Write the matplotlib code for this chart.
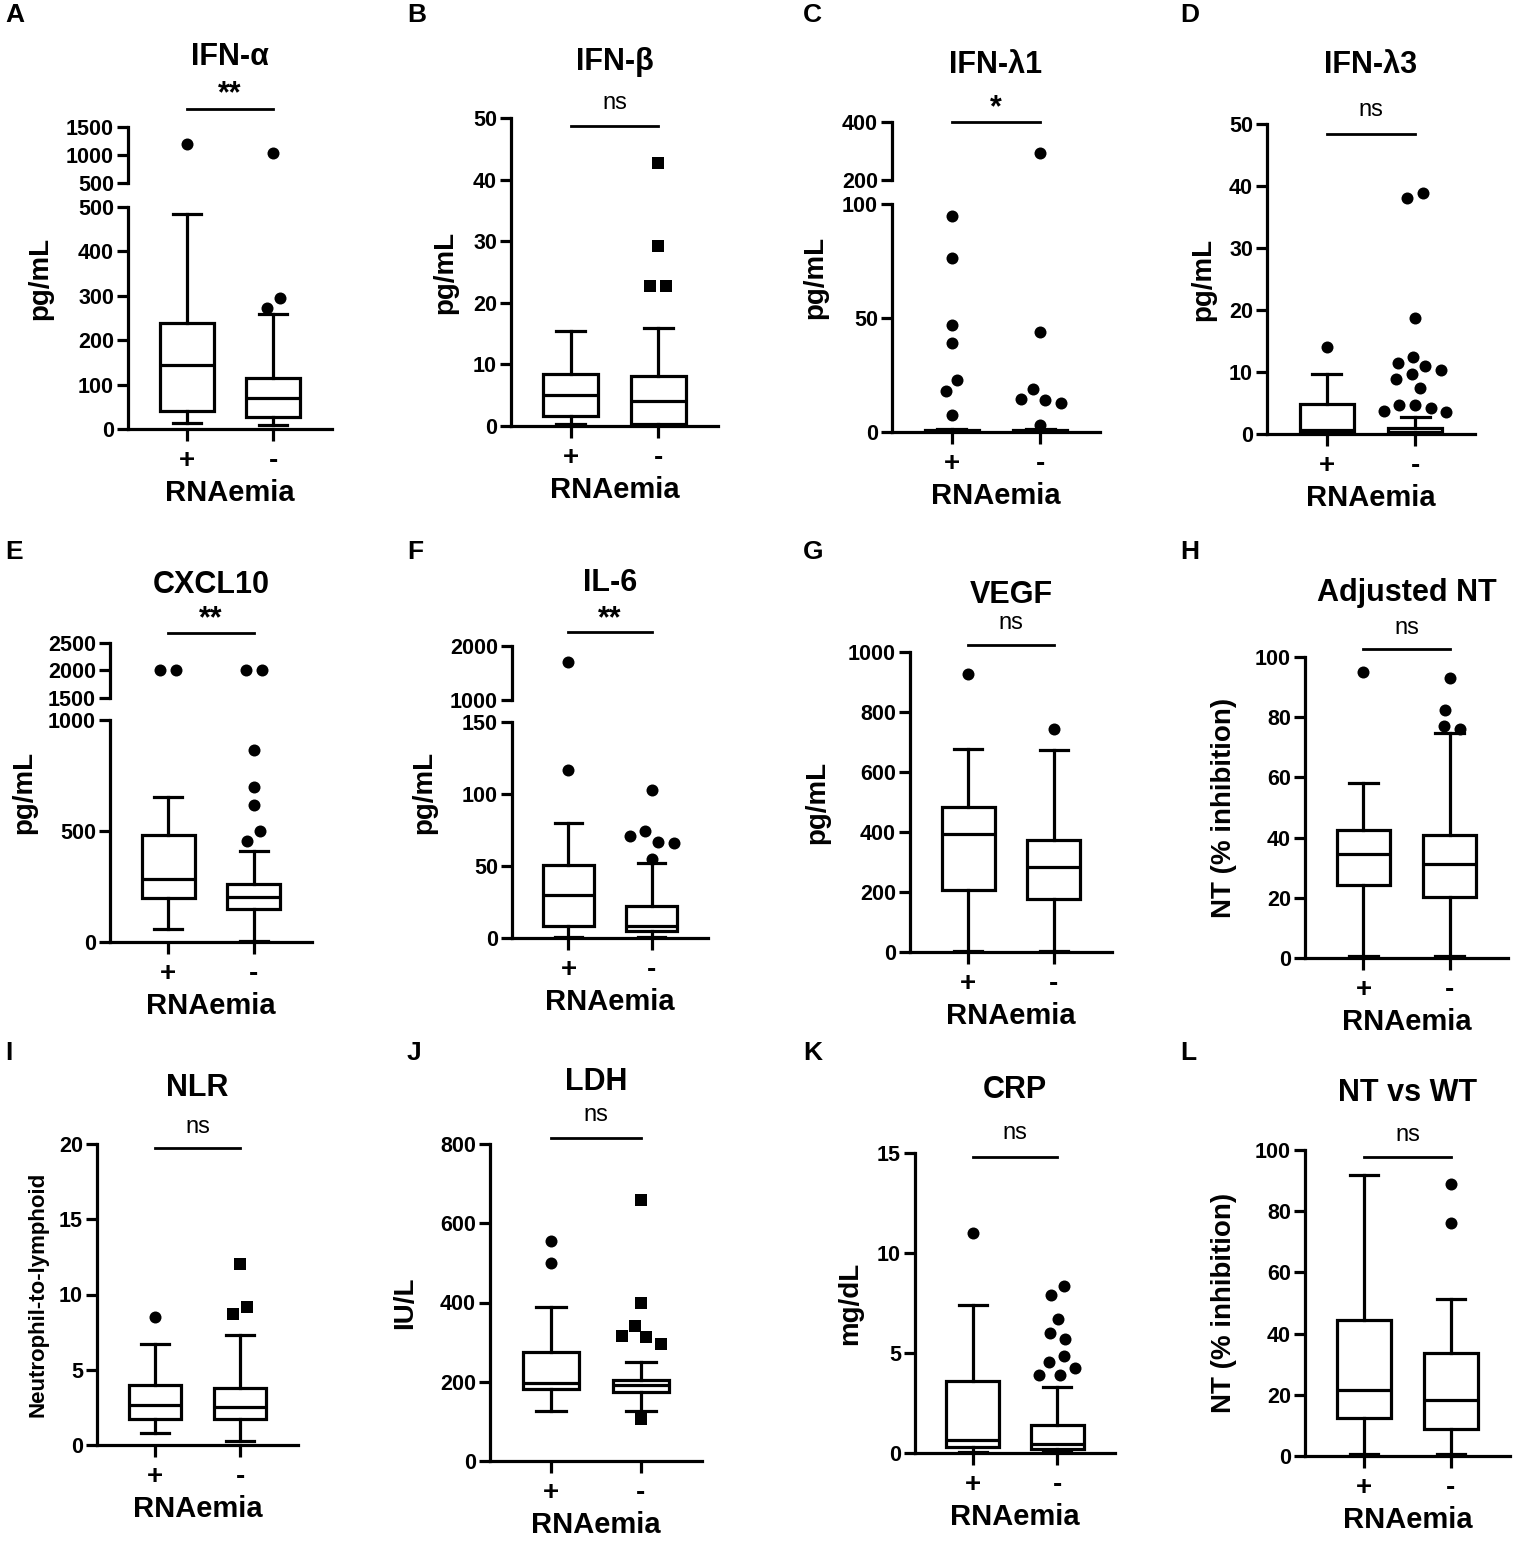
import numpy as np
import matplotlib
matplotlib.use("Agg")
import matplotlib.pyplot as plt
from matplotlib import transforms

plt.rcParams["font.family"] = ["Liberation Sans", "DejaVu Sans"]
plt.rcParams["font.weight"] = "bold"
plt.rcParams["axes.labelweight"] = "bold"

W, H = 1514, 1542
LW = 2.3

groups = ["+", "-"]

# box values: [low whisker, Q1, median, Q3, high whisker]; outliers separately
ifna_pos = [13, 41, 144, 239, 485]
ifna_neg = [8, 26, 69, 115, 260]
ifna_pos_out = [1190]
ifna_neg_out = [1029, 294, 272]

ifnb_pos = [0.4, 1.7, 5.1, 8.4, 15.4]
ifnb_neg = [0.2, 0.4, 4.0, 8.1, 15.9]
ifnb_pos_out = []
ifnb_neg_out = [42.7, 29.2, 22.7, 22.7]

ifnl1_pos = [0, 0, 0.3, 0.9, 1.2]
ifnl1_neg = [0, 0, 0.3, 0.9, 1.2]
ifnl1_pos_out = [94.7, 76.5, 47, 39, 22.9, 17.8, 7.6]
ifnl1_neg_out = [293, 44, 19, 14.6, 14.2, 12.7, 3.2]

ifnl3_pos = [0, 0.5, 0.7, 4.8, 9.7]
ifnl3_neg = [0, 0.1, 0.4, 1.0, 2.8]
ifnl3_pos_out = [14.1]
ifnl3_neg_out = [38.8, 38.1, 18.7, 12.5, 11.5, 10.9, 10.4, 9.6, 8.8, 7.4,
                 4.7, 4.6, 4.2, 3.7, 3.5]

cxcl10_pos = [60, 198, 285, 483, 655]
cxcl10_neg = [5, 150, 201, 261, 408]
cxcl10_pos_out = [2000, 2000]
cxcl10_neg_out = [2000, 2000, 865, 696, 615, 498, 456]

il6_pos = [1, 8, 30, 50.5, 80]
il6_neg = [1, 4.6, 8.5, 22.4, 52]
il6_pos_out = [1710, 117]
il6_neg_out = [103, 74, 71, 67, 66, 55]

vegf_pos = [5, 206, 394, 483, 678]
vegf_neg = [5, 176, 283, 375, 674]
vegf_pos_out = [926]
vegf_neg_out = [744]

adjnt_pos = [0.5, 24.3, 34.5, 42.5, 58.3]
adjnt_neg = [0.5, 20.1, 31.2, 41.0, 74.6]
adjnt_pos_out = [95.1]
adjnt_neg_out = [93.1, 82.3, 77.0, 76.0]

nlr_pos = [0.8, 1.7, 2.65, 4.0, 6.7]
nlr_neg = [0.27, 1.73, 2.55, 3.8, 7.3]
nlr_pos_out = [8.5]
nlr_neg_out = [12.0, 9.2, 8.7]

ldh_pos = [127, 181, 196, 276, 389]
ldh_neg = [127, 174, 191, 205, 250]
ldh_pos_out = [555, 500]
ldh_neg_out = [659, 400, 341, 316, 312, 295, 105]

crp_pos = [0.05, 0.3, 0.67, 3.58, 7.4]
crp_neg = [0.05, 0.2, 0.47, 1.42, 3.28]
crp_pos_out = [11.0]
crp_neg_out = [8.33, 7.92, 6.7, 6.0, 5.7, 4.83, 4.57, 4.25, 3.92, 3.92]

ntwt_pos = [0.5, 12.3, 21.6, 44.4, 91.8]
ntwt_neg = [0.5, 8.7, 18.3, 33.5, 51.2]
ntwt_pos_out = []
ntwt_neg_out = [89, 76]

panels = [
    dict(letter="A", title="IFN-α", ylabel="pg/mL", sig="**",
         stats=(ifna_pos, ifna_neg), out=(ifna_pos_out, ifna_neg_out), marks=("o", "o"),
         ylim=(0, 500), yticks=[0, 100, 200, 300, 400, 500],
         upper=(500, 1500), upper_ticks=[500, 1000, 1500]),
    dict(letter="B", title="IFN-β", ylabel="pg/mL", sig="ns",
         stats=(ifnb_pos, ifnb_neg), out=(ifnb_pos_out, ifnb_neg_out), marks=("o", "s"),
         ylim=(0, 50), yticks=[0, 10, 20, 30, 40, 50]),
    dict(letter="C", title="IFN-λ1", ylabel="pg/mL", sig="*",
         stats=(ifnl1_pos, ifnl1_neg), out=(ifnl1_pos_out, ifnl1_neg_out), marks=("o", "o"),
         ylim=(0, 100), yticks=[0, 50, 100],
         upper=(200, 400), upper_ticks=[200, 400]),
    dict(letter="D", title="IFN-λ3", ylabel="pg/mL", sig="ns",
         stats=(ifnl3_pos, ifnl3_neg), out=(ifnl3_pos_out, ifnl3_neg_out), marks=("o", "o"),
         ylim=(0, 50), yticks=[0, 10, 20, 30, 40, 50]),
    dict(letter="E", title="CXCL10", ylabel="pg/mL", sig="**",
         stats=(cxcl10_pos, cxcl10_neg), out=(cxcl10_pos_out, cxcl10_neg_out), marks=("o", "o"),
         ylim=(0, 1000), yticks=[0, 500, 1000],
         upper=(1500, 2500), upper_ticks=[1500, 2000, 2500]),
    dict(letter="F", title="IL-6", ylabel="pg/mL", sig="**",
         stats=(il6_pos, il6_neg), out=(il6_pos_out, il6_neg_out), marks=("o", "o"),
         ylim=(0, 150), yticks=[0, 50, 100, 150],
         upper=(1000, 2000), upper_ticks=[1000, 2000]),
    dict(letter="G", title="VEGF", ylabel="pg/mL", sig="ns",
         stats=(vegf_pos, vegf_neg), out=(vegf_pos_out, vegf_neg_out), marks=("o", "o"),
         ylim=(0, 1000), yticks=[0, 200, 400, 600, 800, 1000]),
    dict(letter="H", title="Adjusted NT", ylabel="NT (% inhibition)", sig="ns",
         stats=(adjnt_pos, adjnt_neg), out=(adjnt_pos_out, adjnt_neg_out), marks=("o", "o"),
         ylim=(0, 100), yticks=[0, 20, 40, 60, 80, 100]),
    dict(letter="I", title="NLR", ylabel="Neutrophil-to-lymphoid", sig="ns",
         stats=(nlr_pos, nlr_neg), out=(nlr_pos_out, nlr_neg_out), marks=("o", "s"),
         ylim=(0, 20), yticks=[0, 5, 10, 15, 20], ylabel_size=16),
    dict(letter="J", title="LDH", ylabel="IU/L", sig="ns",
         stats=(ldh_pos, ldh_neg), out=(ldh_pos_out, ldh_neg_out), marks=("o", "s"),
         ylim=(0, 800), yticks=[0, 200, 400, 600, 800]),
    dict(letter="K", title="CRP", ylabel="mg/dL", sig="ns",
         stats=(crp_pos, crp_neg), out=(crp_pos_out, crp_neg_out), marks=("o", "o"),
         ylim=(0, 15), yticks=[0, 5, 10, 15]),
    dict(letter="L", title="NT vs WT", ylabel="NT (% inhibition)", sig="ns",
         stats=(ntwt_pos, ntwt_neg), out=(ntwt_pos_out, ntwt_neg_out), marks=("o", "o"),
         ylim=(0, 100), yticks=[0, 20, 40, 60, 80, 100]),
]

# pixel layout of each panel (axis lines, title, significance bar)
layout = {
    "A": dict(left=128, right=332, zero=429, top=207, ub=183, ut=127, title=57, sig=88, line=109, ypad=18),
    "B": dict(left=511, right=718, zero=426, top=118, title=62, sig=103, line=126, ypad=11),
    "C": dict(left=892, right=1100, zero=432, top=204, ub=180, ut=122, title=65, sig=102, line=122, ypad=10),
    "D": dict(left=1267, right=1475, zero=434, top=124, title=65, sig=110, line=134, ypad=9.5),
    "E": dict(left=110, right=312, zero=942, top=720, ub=698, ut=643, title=585, sig=613, line=633, ypad=8),
    "F": dict(left=512, right=708, zero=938, top=722, ub=700, ut=646, title=583, sig=613, line=632, ypad=18),
    "G": dict(left=910, right=1112, zero=952, top=652, title=595, sig=623, line=645, ypad=13),
    "H": dict(left=1305, right=1508, zero=958, top=657, title=593, sig=628, line=649, ypad=13),
    "I": dict(left=97, right=298, zero=1445, top=1144, title=1088, sig=1127, line=1148, ypad=8),
    "J": dict(left=490, right=702, zero=1461, top=1144, title=1082, sig=1115, line=1138, ypad=16),
    "K": dict(left=915, right=1115, zero=1453, top=1153, title=1090, sig=1133, line=1157, ypad=10),
    "L": dict(left=1305, right=1510, zero=1456, top=1150, title=1093, sig=1135, line=1157, ypad=13),
}
letter_x = [5, 407, 803, 1180]
letter_y = [15, 552, 1053]

DIAM = 12   # marker diameter in pixels
SEP = 16    # centre distance of side-by-side outliers in pixels


def rect(left, right, bottom, top):
    return [left / W, 1 - bottom / H, (right - left) / W, (bottom - top) / H]


def swarm(ax, pos, values):
    # simple beeswarm in pixel space so touching outliers sit side by side
    vals = np.asarray(values, float)
    ys = ax.transData.transform(np.column_stack([np.full(len(vals), pos), vals]))[:, 1]
    xs = np.zeros(len(vals))
    placed = []
    for i in np.argsort(-vals, kind="stable"):
        blocked = []
        for j in placed:
            dy = abs(ys[i] - ys[j])
            if dy < SEP:
                h = np.sqrt(SEP ** 2 - dy ** 2)
                blocked.append((xs[j] - h, xs[j] + h))
        cands = sorted([0.0] + [e for b in blocked for e in b], key=lambda c: (abs(c), c))
        for c in cands:
            if all(not (a + 1e-6 < c < b - 1e-6) for a, b in blocked):
                xs[i] = c
                break
        placed.append(i)
    # centre each group of touching points on the box
    n = len(vals)
    seen = np.zeros(n, bool)
    for s in range(n):
        if seen[s]:
            continue
        comp, stack = [], [s]
        seen[s] = True
        while stack:
            k = stack.pop()
            comp.append(k)
            for m in range(n):
                if not seen[m] and np.hypot(xs[k] - xs[m], ys[k] - ys[m]) < SEP * 1.05:
                    seen[m] = True
                    stack.append(m)
        xs[comp] -= xs[comp].mean()
    unit = ax.transData.transform((1, 0))[0] - ax.transData.transform((0, 0))[0]
    return pos + xs / unit, vals


def draw_outliers(ax, pos, values, marker):
    if len(values) == 0:
        return
    x, y = swarm(ax, pos, values)
    ax.scatter(x, y, s=(DIAM / 1.389) ** 2 * (0.85 if marker == "s" else 1.0),
               marker=marker, color="black", linewidths=0, zorder=6, clip_on=False)


fig = plt.figure(figsize=(W / 100, H / 100), dpi=100)

for idx, p in enumerate(panels):
    L = layout[p["letter"]]
    ax = fig.add_axes(rect(L["left"], L["right"], L["zero"], L["top"]))
    ax.set_xlim(0.32, 2.68)
    ax.set_ylim(*p["ylim"])
    ax.set_yticks(p["yticks"])
    for s in ["top", "right"]:
        ax.spines[s].set_visible(False)
    for s in ["left", "bottom"]:
        ax.spines[s].set_linewidth(LW)

    stats = []
    for g, v in zip(groups, p["stats"]):
        lo, q1, med, q3, hi = v
        stats.append(dict(label=g, whislo=lo, q1=q1, med=med, q3=q3, whishi=hi, fliers=[]))
    ax.bxp(stats, positions=[1, 2], widths=0.62, capwidths=0.33, patch_artist=True,
           showfliers=False, manage_ticks=False,
           boxprops=dict(facecolor="white", edgecolor="black", linewidth=LW),
           medianprops=dict(color="black", linewidth=LW, solid_capstyle="butt"),
           whiskerprops=dict(color="black", linewidth=LW),
           capprops=dict(color="black", linewidth=LW))

    ax.set_xticks([1, 2])
    ax.set_xticklabels(groups)
    ax.tick_params(axis="x", direction="out", length=8.5, width=LW, labelsize=20, pad=5)
    ax.tick_params(axis="y", direction="out", length=8, width=LW, labelsize=15.5, pad=2)
    ax.set_xlabel("RNAemia", fontsize=21, labelpad=4)

    upper = None
    if "upper" in p:
        upper = fig.add_axes(rect(L["left"], L["right"], L["ub"], L["ut"]))
        upper.set_xlim(0.32, 2.68)
        upper.set_ylim(*p["upper"])
        upper.set_yticks(p["upper_ticks"])
        upper.set_xticks([])
        for s in ["top", "right", "bottom"]:
            upper.spines[s].set_visible(False)
        upper.spines["left"].set_linewidth(LW)
        upper.tick_params(axis="y", direction="out", length=8, width=LW, labelsize=15.5, pad=2)
        upper.patch.set_visible(False)
        yfrac = (L["zero"] - L["ut"]) / 2 / (L["zero"] - L["top"])
    else:
        yfrac = 0.5

    ax.set_ylabel(p["ylabel"], fontsize=p.get("ylabel_size", 20), labelpad=L["ypad"], y=yfrac)

    for k, (vals, mk) in enumerate(zip(p["out"], p["marks"])):
        low = [v for v in vals if v <= p["ylim"][1]]
        high = [v for v in vals if v > p["ylim"][1]]
        draw_outliers(ax, k + 1, low, mk)
        if upper is not None:
            draw_outliers(upper, k + 1, high, mk)

    trans = transforms.blended_transform_factory(ax.transData, fig.transFigure)
    ax.text(1.5, 1 - L["title"] / H, p["title"], transform=trans, ha="center", va="center",
            fontsize=22)
    if p["sig"].startswith("*"):
        ax.text(1.5, 1 - (L["sig"] + 6) / H, p["sig"], transform=trans, ha="center",
                va="center", fontsize=22)
    else:
        ax.text(1.5, 1 - L["sig"] / H, p["sig"], transform=trans, ha="center", va="center",
                fontsize=17, fontweight="normal")
    ax.plot([1, 2], [1 - L["line"] / H] * 2, transform=trans, color="black", lw=2.0,
            clip_on=False)

    fig.text(letter_x[idx % 4] / W, 1 - letter_y[idx // 4] / H, p["letter"],
             ha="left", va="center", fontsize=19)

fig.savefig("out.png", dpi=100)
